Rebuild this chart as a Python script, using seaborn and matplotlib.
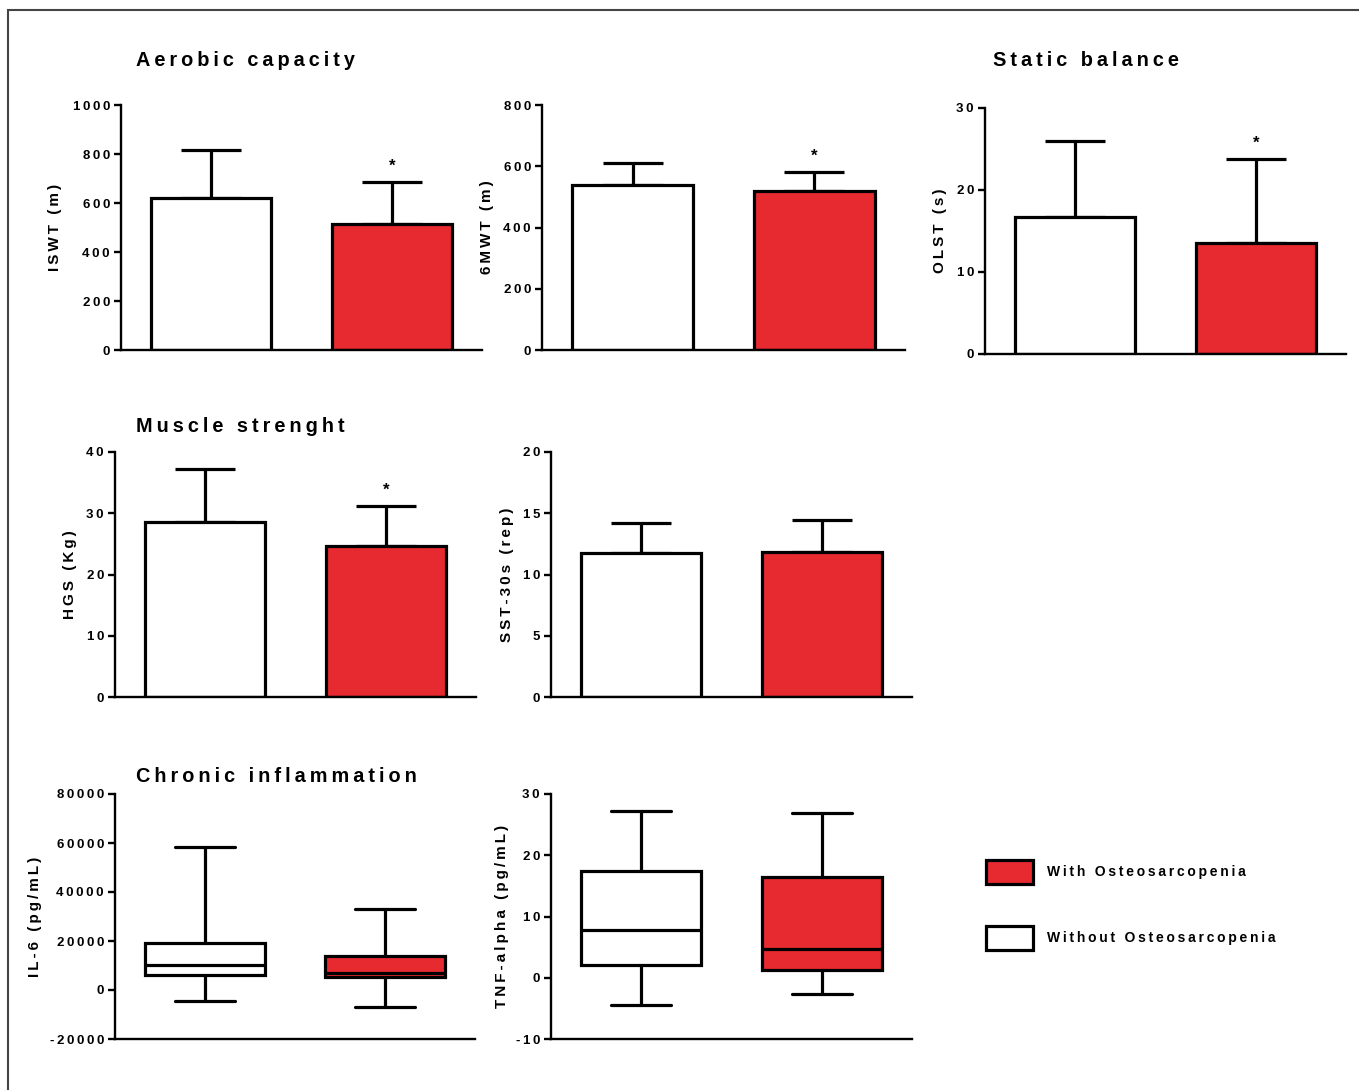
import numpy as np
import pandas as pd
import matplotlib
matplotlib.use("Agg")
import matplotlib.pyplot as plt
import seaborn as sns
from matplotlib.patches import Patch, Rectangle
from matplotlib.ticker import FuncFormatter, MultipleLocator

sns.set_style("ticks")
plt.rcParams["font.family"] = ["Liberation Sans", "DejaVu Sans"]
plt.rcParams["axes.unicode_minus"] = False
for k in ["text.color", "axes.labelcolor", "xtick.color", "ytick.color", "axes.edgecolor"]:
    plt.rcParams[k] = "black"

# ---------------- data ----------------
groups = ["Without Osteosarcopenia", "With Osteosarcopenia"]
colors = ["#FFFFFF", "#E62A30"]

iswt_mean = [620, 514]
iswt_sd = [196, 172]
mwt_mean = [539, 520]
mwt_sd = [72, 62]
olst_mean = [16.7, 13.5]
olst_sd = [9.3, 10.3]
hgs_mean = [28.6, 24.7]
hgs_sd = [8.6, 6.5]
sst_mean = [11.75, 11.8]
sst_sd = [2.45, 2.65]

# box summaries: lower whisker, Q1, median, Q3, upper whisker
il6_low = [-4500, -7100]
il6_q1 = [6100, 5400]
il6_med = [10200, 7100]
il6_q3 = [19200, 14000]
il6_high = [58500, 32900]

tnf_low = [-4.4, -2.7]
tnf_q1 = [2.1, 1.2]
tnf_med = [7.75, 4.75]
tnf_q3 = [17.5, 16.5]
tnf_high = [27.3, 26.9]

significant = {"ISWT": True, "6MWT": True, "OLST": True, "HGS": True, "SST": False}

# ---------------- layout ----------------
W, H = 1359, 1090
fig = plt.figure(figsize=(W / 100, H / 100), dpi=100)
TS = "\u2009"


def spaced(s):
    return TS.join(list(s))


def add_ax(x0, x1, ytop, ybot):
    return fig.add_axes([x0 / W, 1 - ybot / H, (x1 - x0) / W, (ybot - ytop) / H])


def style_ax(ax, ylim, step, ylabel, label_x_px, x0, x1):
    ax.set_xlim(-0.5, 1.5)
    ax.set_ylim(*ylim)
    ax.yaxis.set_major_locator(MultipleLocator(step))
    ax.yaxis.set_major_formatter(FuncFormatter(lambda v, p: spaced(f"{v:.0f}")))
    ax.set_xticks([])
    ax.set_xlabel("")
    for s in ["top", "right"]:
        ax.spines[s].set_visible(False)
    for s in ["left", "bottom"]:
        ax.spines[s].set_linewidth(1.7)
        ax.spines[s].set_color("black")
    ax.tick_params(axis="y", direction="out", length=5, width=1.7, labelsize=9.5, pad=3)
    for t in ax.get_yticklabels():
        t.set_fontweight("bold")
    ax.set_ylabel(spaced(ylabel), fontsize=11, fontweight="bold", va="center")
    ax.yaxis.set_label_coords((label_x_px - x0) / (x1 - x0), 0.5)


def bar_panel(box, mean, sd, ylim, step, ylabel, lab_x, star):
    x0, x1, yt, yb = box
    ax = add_ax(x0, x1, yt, yb)
    df = pd.DataFrame({"group": groups, "value": mean})
    sns.barplot(data=df, x="group", y="value", hue="group", order=groups,
                hue_order=groups, palette=colors, saturation=1, width=0.667,
                edgecolor="black", linewidth=2.3, legend=False, ax=ax, zorder=2)
    ax.errorbar([0, 1], mean, yerr=[np.zeros(2), sd], fmt="none", ecolor="black",
                elinewidth=2.3, capsize=21.5, capthick=2.3, zorder=1)
    if star:
        ax.annotate("*", xy=(1, mean[1] + sd[1]), xytext=(0, 6),
                    textcoords="offset points", ha="center", va="bottom",
                    fontsize=12, fontweight="bold")
    style_ax(ax, ylim, step, ylabel, lab_x, x0, x1)
    return ax


def box_panel(box, low, q1, med, q3, high, ylim, step, ylabel, lab_x):
    x0, x1, yt, yb = box
    ax = add_ax(x0, x1, yt, yb)
    stats = [dict(whislo=low[i], q1=q1[i], med=med[i], q3=q3[i], whishi=high[i],
                  fliers=[]) for i in range(2)]
    bp = ax.bxp(stats, positions=[0, 1], widths=0.667, capwidths=[0.333, 0.333],
                patch_artist=True, showfliers=False, manage_ticks=False,
                boxprops=dict(linewidth=2.3, edgecolor="black"),
                whiskerprops=dict(linewidth=2.3, color="black"),
                capprops=dict(linewidth=2.3, color="black"),
                medianprops=dict(linewidth=2.3, color="black"))
    for patch, c in zip(bp["boxes"], colors):
        patch.set_facecolor(c)
    style_ax(ax, ylim, step, ylabel, lab_x, x0, x1)
    return ax


bar_panel((121, 482, 105, 350), iswt_mean, iswt_sd, (0, 1000), 200, "ISWT (m)", 55, significant["ISWT"])
bar_panel((542, 905, 105, 350), mwt_mean, mwt_sd, (0, 800), 200, "6MWT (m)", 487, significant["6MWT"])
bar_panel((985, 1346, 108, 354), olst_mean, olst_sd, (0, 30), 10, "OLST (s)", 940, significant["OLST"])
bar_panel((115, 476, 452, 697), hgs_mean, hgs_sd, (0, 40), 10, "HGS (Kg)", 70, significant["HGS"])
bar_panel((551, 912, 452, 697), sst_mean, sst_sd, (0, 20), 5, "SST-30s (rep)", 507, significant["SST"])
box_panel((115, 475, 794, 1039), il6_low, il6_q1, il6_med, il6_q3, il6_high,
          (-20000, 80000), 20000, "IL-6 (pg/mL)", 35)
box_panel((551, 912, 794, 1039), tnf_low, tnf_q1, tnf_med, tnf_q3, tnf_high,
          (-10, 30), 10, "TNF-alpha (pg/mL)", 502)

# section titles
for txt, x, y in [("Aerobic capacity", 136, 61), ("Static balance", 993, 61),
                  ("Muscle strenght", 136, 427), ("Chronic inflammation", 136, 777)]:
    fig.text(x / W, 1 - y / H, spaced(txt), fontsize=14.3, fontweight="bold",
             ha="left", va="center")

# legend
handles = [Patch(facecolor=colors[1], edgecolor="black", linewidth=2.3),
           Patch(facecolor=colors[0], edgecolor="black", linewidth=2.3)]
labels = [spaced(groups[1]), spaced(groups[0])]
leg = fig.legend(handles, labels, loc="upper left",
                 bbox_to_anchor=(979 / W, 1 - 853 / H), frameon=False, borderpad=0,
                 handlelength=3.4, handleheight=2.3, handletextpad=1.0,
                 labelspacing=3.0, prop=dict(size=10, weight="bold"))

# outer frame
fig.add_artist(Rectangle((7.5 / W, -0.05), 1.2, 1.05 - 10.5 / H,
                         transform=fig.transFigure, fill=False,
                         edgecolor="#444444", linewidth=1.5, clip_on=False))

fig.savefig("out.png", dpi=100)
